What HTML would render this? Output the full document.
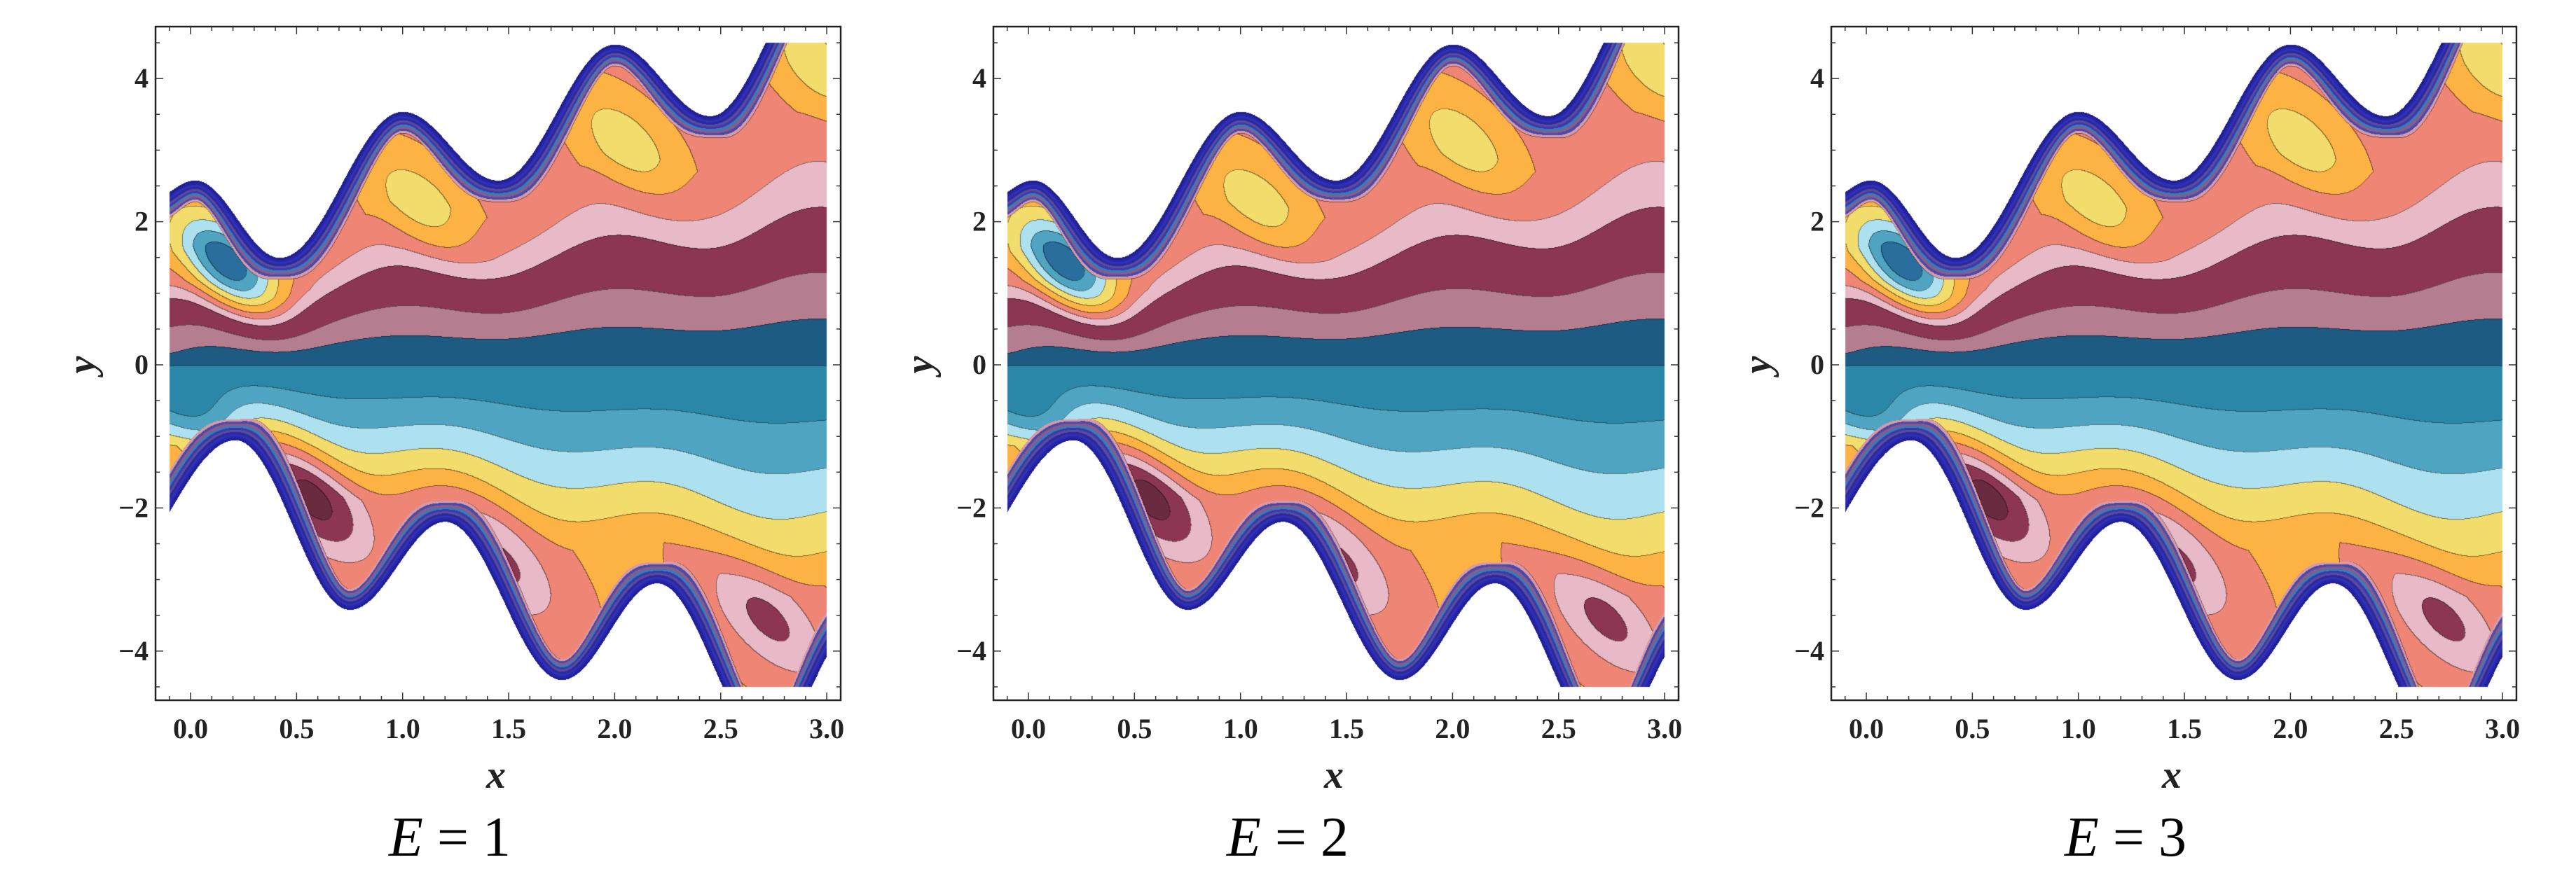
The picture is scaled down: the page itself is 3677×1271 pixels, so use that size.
<!DOCTYPE html>
<html><head><meta charset="utf-8"><style>
html,body{margin:0;padding:0;background:#fff;}
#wrap{position:relative;width:3677px;height:1271px;overflow:hidden;background:#fff;}
canvas,svg{position:absolute;left:0;top:0;}
</style></head><body>
<div id="wrap">
<canvas id="cv" width="3677" height="1271"></canvas>
<svg id="sv" width="3677" height="1271"></svg>
</div>
<script>
// ---- data ----
const panelLabels = ["1","2","3"];
const panelOffsets = [0,1196,2392];
const upperKnotsX = [-0.2,0.02,0.42,1.0,1.45,2.0,2.45,2.95,3.3];
const upperKnotsY = [2.3,2.58,1.5,3.54,2.58,4.48,3.48,5.4,4.6];
const lowerKnotsX = [-0.4,0.21,0.75,1.2,1.75,2.2,2.72,3.15];
const lowerKnotsY = [-3.0,-1.05,-3.42,-2.19,-4.4,-3.05,-5.3,-3.6];
const blobX = [0.17,1.08,2.05,2.95,0.56,1.45,2.72,0.08];
const blobY = [1.4,2.25,3.1,4.2,-1.85,-2.75,-3.55,-0.9];
const blobAmp = [5.3,2.0,2.0,1.9,-3.6,-2.4,-2.4,2.2];
const upperThresholds = [0,1,2,3.4,4.2,5,6,7,8,9];
const upperColors = ["#1d5b83","#b47e90","#8c3653","#e8b9c6","#ee8575","#fdb343","#f2dc6c","#aee1ef","#4ea4c1","#2a6e9e"];
const lowerThresholds = [0,-1,-2,-3,-4,-5,-6,-7,-8];
const lowerColors = ["#2b87a7","#4ea4c1","#aee1ef","#f2dc6c","#fdb343","#ee8575","#e8b9c6","#8c3653","#6a2a40"];
const stripeColors = ["#1f1f8f","#2626a8","#3030b8","#2a2a9a","#5a4aa0","#3a3aa8","#3a7ab8","#8a5a8a","#4a4aa8","#d89aaa"];
const xTicks = ["0.0","0.5","1.0","1.5","2.0","2.5","3.0"];
const yTicks = ["-4","-2","0","2","4"];
// ---- geometry ----
const X0=272, XS=302.7, Y0=521, YS=102.2;
const FL=222, FR=1200, FT=38, FB=1000;
function xp(x,o){return o+X0+x*XS;}
function yp(y){return Y0-y*YS;}
function interp(xs,ys,x){
  let i=0; while(i<xs.length-2 && x>xs[i+1]) i++;
  let t=(x-xs[i])/(xs[i+1]-xs[i]); t=Math.max(0,Math.min(1,t));
  return ys[i]+(ys[i+1]-ys[i])*(1-Math.cos(Math.PI*t))/2;
}
function hex(c){return [parseInt(c.substr(1,2),16),parseInt(c.substr(3,2),16),parseInt(c.substr(5,2),16)];}
const uC=upperColors.map(hex), lC=lowerColors.map(hex), sC=stripeColors.map(hex);
function field(x,y){
  const yu=interp(upperKnotsX,upperKnotsY,x), yl=interp(lowerKnotsX,lowerKnotsY,x);
  if(y>yu||y<yl) return -1;
  const h=0.002;
  const su=(interp(upperKnotsX,upperKnotsY,x+h)-interp(upperKnotsX,upperKnotsY,x-h))/(2*h)*YS/XS;
  const sl=(interp(lowerKnotsX,lowerKnotsY,x+h)-interp(lowerKnotsX,lowerKnotsY,x-h))/(2*h)*YS/XS;
  const dU=(yu-y)*YS/Math.sqrt(1+su*su), dL=(y-yl)*YS/Math.sqrt(1+sl*sl);
  const d=Math.min(dU,dL);
  if(d<30){return 100+Math.min(stripeColors.length-1,Math.floor(d/3));}
  let V;
  if(y>=0){const yus=0.6*yu+0.4*(2.1+0.95*x); const q=y/yus; V=q<0.5?8*q:4+Math.min((q-0.5)*4,0.8);}
  else{const yls=0.35*yl+0.65*(-1.6-1.05*x); const q=y/yls; V=-Math.min(5.5*q+2.5*q*q,4.9);}
  for(let k=0;k<blobX.length;k++){
    const dx=(x-blobX[k])*3, dy=y-blobY[k];
    const a=(dx-dy)/1.414, b=(dx+dy)/1.414;
    const sa=k>=4?0.75:0.6, sb=k>=4?0.36:0.32;
    const r=a*a/(sa*sa)+b*b/(sb*sb);
    V+=blobAmp[k]*Math.exp(-r/2);
  }
  if(y>=0){let i=0; while(i<upperThresholds.length-1 && V>=upperThresholds[i+1]) i++; return i;}
  if(V>0) V=-0.01;
  let i=0; while(i<lowerThresholds.length-1 && V<=lowerThresholds[i+1]) i++; return 50+i;
}
function col(idx){ if(idx>=100) return sC[idx-100]; if(idx>=50) return lC[idx-50]; return uC[idx]; }
const cv=document.getElementById('cv'), ctx=cv.getContext('2d');
const img=ctx.createImageData(3677,1271), D=img.data;
for(let i=0;i<D.length;i++) D[i]=255;
panelOffsets.forEach(o=>{
  const pxA=Math.round(xp(-0.1,o)), pxB=Math.round(xp(3.0,o));
  const pyA=Math.round(yp(4.5)), pyB=Math.round(yp(-4.5));
  const W=pxB-pxA, H=pyB-pyA; const grid=new Int16Array(W*H);
  for(let j=0;j<H;j++)for(let i=0;i<W;i++){
    const x=(pxA+i-o-X0)/XS, y=(Y0-(pyA+j))/YS;
    grid[j*W+i]=field(x,y);
  }
  for(let j=0;j<H;j++)for(let i=0;i<W;i++){
    const g=grid[j*W+i]; if(g<0) continue;
    let c=col(g).slice();
    const l=i>0?grid[j*W+i-1]:g, u=j>0?grid[(j-1)*W+i]:g;
    if(g<100&&((l!==g&&l>=0)||(u!==g&&u>=0))) c=c.map(v=>v*0.55);
    const p=((pyA+j)*3677+pxA+i)*4; D[p]=c[0];D[p+1]=c[1];D[p+2]=c[2];
  }
});
ctx.putImageData(img,0,0);
// ---- axes overlay ----
const NS="http://www.w3.org/2000/svg", sv=document.getElementById('sv');
function mk(tag,attrs,parent){const e=document.createElementNS(NS,tag);for(const k in attrs)e.setAttribute(k,attrs[k]);(parent||sv).appendChild(e);return e;}
panelOffsets.forEach((o,pi)=>{
  const g=mk('g',{});
  
  
  const fr=mk('rect',{x:o+FL,y:FT,width:FR-FL,height:FB-FT,fill:'none',stroke:'#222','stroke-width':2.5},g);
  
  
  for(let k=-1;k<=30;k++){const x=k/10; const X=xp(x,o); if(X<o+FL||X>o+FR)continue;
    const L=(k%5===0)?11:6;
    mk('line',{x1:X,y1:FB,x2:X,y2:FB-L,stroke:'#333','stroke-width':1.5},g);
    mk('line',{x1:X,y1:FT,x2:X,y2:FT+L,stroke:'#333','stroke-width':1.5},g);}
  for(let k=-9;k<=9;k++){const Y=yp(k/2); if(Y<FT||Y>FB)continue;
    const L=(k%4===0)?11:6;
    mk('line',{x1:o+FL,y1:Y,x2:o+FL+L,y2:Y,stroke:'#333','stroke-width':1.5},g);
    mk('line',{x1:o+FR,y1:Y,x2:o+FR-L,y2:Y,stroke:'#333','stroke-width':1.5},g);}
  xTicks.forEach(t=>{const e=mk('text',{x:xp(parseFloat(t),o),y:1054,'text-anchor':'middle','font-family':'Liberation Serif, serif','font-weight':'bold','font-size':40,fill:'#222'},g);e.textContent=t;
    
    });
  yTicks.forEach(t=>{const e=mk('text',{x:o+212,y:yp(parseFloat(t))+13,'text-anchor':'end','font-family':'Liberation Serif, serif','font-weight':'bold','font-size':40,fill:'#222'},g);e.textContent=t.replace('-','\u2212');
    
    });
  const xl=mk('text',{x:o+708,y:1125,'text-anchor':'middle','font-family':'Liberation Serif, serif','font-weight':'bold','font-style':'italic','font-size':56,fill:'#222'},g);xl.textContent='x';
  
  
  const yl=mk('text',{x:o+135,y:521,'text-anchor':'middle','font-family':'Liberation Serif, serif','font-weight':'bold','font-style':'italic','font-size':56,fill:'#222',transform:'rotate(-90 '+(o+135)+' 521)'},g);yl.textContent='y';
  
  
  const cap=mk('text',{x:o+642,y:1222,'text-anchor':'middle','font-family':'Liberation Serif, serif','font-size':80,fill:'#000'},g);
  cap.innerHTML='<tspan font-style="italic">E</tspan> = '+panelLabels[pi];
  
  
});
</script>
</body></html>
